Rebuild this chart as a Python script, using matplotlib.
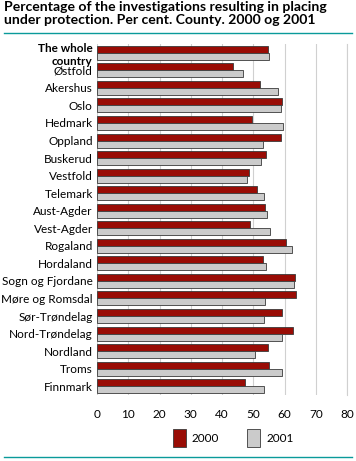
import numpy as np
import matplotlib.pyplot as plt

plt.rcParams['font.family'] = ['Lato', 'DejaVu Sans']

counties = ["The whole\ncountry", "Østfold", "Akershus", "Oslo", "Hedmark", "Oppland",
            "Buskerud", "Vestfold", "Telemark", "Aust-Agder", "Vest-Agder", "Rogaland",
            "Hordaland", "Sogn og Fjordane", "Møre og Romsdal", "Sør-Trøndelag",
            "Nord-Trøndelag", "Nordland", "Troms", "Finnmark"]
y2000 = [54.6, 43.4, 52.1, 59.2, 49.6, 59.0, 54.0, 48.6, 51.1, 53.9,
         48.9, 60.4, 53.2, 63.5, 63.8, 59.1, 62.6, 54.6, 55.1, 47.3]
y2001 = [55.1, 46.7, 57.8, 58.8, 59.4, 53.2, 52.6, 48.0, 53.3, 54.5,
         55.5, 62.3, 54.1, 63.1, 53.9, 53.5, 59.1, 50.7, 59.1, 53.3]
xticks = [0, 10, 20, 30, 40, 50, 60, 70, 80]

fig = plt.figure(figsize=(3.56, 4.61), dpi=100)
ax = fig.add_axes([97/356, 1 - 395/461, 250/356, 351/461])

y = np.arange(len(counties))
h = 0.4
ax.barh(y - h/2, y2000, height=h, color='#990c05', edgecolor='#3a3a3a', linewidth=0.6, label='2000', zorder=3)
ax.barh(y + h/2, y2001, height=h, color='#cbcbcb', edgecolor='#3a3a3a', linewidth=0.6, label='2001', zorder=3)

ax.set_ylim(len(counties) - 0.5, -0.5)
ax.set_xlim(0, 80)
ax.set_xticks(xticks)
ax.set_yticks(y)
ax.set_yticklabels(counties, fontsize=8.5, linespacing=1.25)
ax.get_yticklabels()[0].set_fontweight('bold')
ax.tick_params(axis='x', labelsize=8.5, length=0, pad=10)
ax.tick_params(axis='y', length=0, pad=3)
ax.grid(axis='x', color='#d0d0d0', linewidth=0.8, zorder=0)
for s in ['top', 'left', 'bottom']:
    ax.spines[s].set_visible(False)
ax.spines['right'].set_color('#d0d0d0')

fig.text(0.012, 0.997, "Percentage of the investigations resulting in placing\nunder protection. Per cent. County. 2000 og 2001",
         fontsize=10.1, fontweight='bold', va='top', ha='left', linespacing=1.05)
fig.add_artist(plt.Line2D([0.01, 0.99], [1 - 33/461, 1 - 33/461], color='#0a9a9a', linewidth=1.0))
fig.add_artist(plt.Line2D([0.01, 0.99], [1 - 457/461, 1 - 457/461], color='#0a9a9a', linewidth=1.0))

fig.legend(loc='center', bbox_to_anchor=(0.655, 1 - 438/461), ncol=2, frameon=False,
           fontsize=8.5, handlelength=1.1, handleheight=2.0, columnspacing=2.4, handletextpad=0.5)

fig.savefig('out.png', dpi=100)
